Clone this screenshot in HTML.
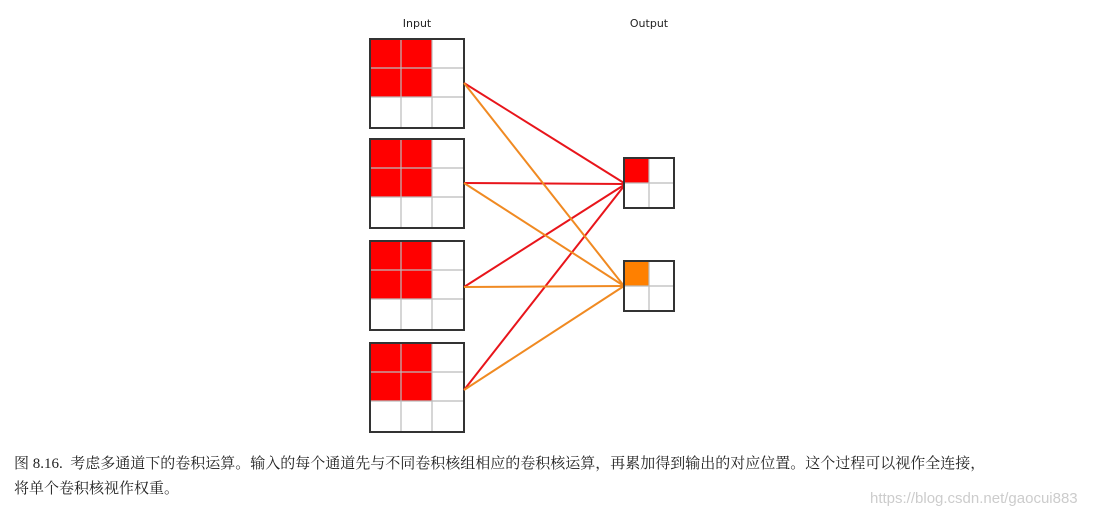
<!DOCTYPE html>
<html><head><meta charset="utf-8"><style>
body{margin:0;width:1098px;height:518px;background:#fff;position:relative;overflow:hidden;font-family:"Liberation Serif","Noto Serif CJK SC",serif}
.t{position:absolute;white-space:nowrap}
</style></head><body>
<svg width="1098" height="440" style="position:absolute;left:0;top:0">
<defs>
<g id="in">
<rect x="0" y="0" width="62" height="58" fill="#f00"/>
<g stroke="#bbb" stroke-width="1.2">
<line x1="31" y1="0" x2="31" y2="89"/><line x1="62" y1="0" x2="62" y2="89"/>
<line x1="0" y1="29" x2="94" y2="29"/><line x1="0" y1="58" x2="94" y2="58"/>
</g>
<rect x="0" y="0" width="94" height="89" fill="none" stroke="#333" stroke-width="2"/>
</g>
</defs>
<text x="417" y="27" font-family="DejaVu Sans,sans-serif" font-size="11" text-anchor="middle" fill="#222">Input</text>
<text x="649" y="27" font-family="DejaVu Sans,sans-serif" font-size="11" text-anchor="middle" fill="#222">Output</text>
<use href="#in" x="370" y="39"/>
<use href="#in" x="370" y="139"/>
<use href="#in" x="370" y="241"/>
<use href="#in" x="370" y="343"/>
<g stroke-width="2">
<line x1="464" y1="83" x2="624" y2="183" stroke="#e8151b"/>
<line x1="464" y1="183" x2="624" y2="184" stroke="#e8151b"/>
<line x1="464" y1="287" x2="624" y2="185" stroke="#e8151b"/>
<line x1="464" y1="390" x2="624" y2="186" stroke="#e8151b"/>
<line x1="464" y1="83" x2="624" y2="286" stroke="#f08a22"/>
<line x1="464" y1="183" x2="624" y2="286" stroke="#f08a22"/>
<line x1="464" y1="287" x2="624" y2="286" stroke="#f08a22"/>
<line x1="464" y1="390" x2="624" y2="286" stroke="#f08a22"/>
</g>
<rect x="624" y="158" width="25" height="25" fill="#f00"/>
<rect x="624" y="261" width="25" height="25" fill="#ff8000"/>
<g stroke="#bbb" stroke-width="1.2">
<line x1="649" y1="158" x2="649" y2="208"/><line x1="624" y1="183" x2="674" y2="183"/>
<line x1="649" y1="261" x2="649" y2="311"/><line x1="624" y1="286" x2="674" y2="286"/>
</g>
<rect x="624" y="158" width="50" height="50" fill="none" stroke="#333" stroke-width="2"/>
<rect x="624" y="261" width="50" height="50" fill="none" stroke="#333" stroke-width="2"/>
</svg>
<div class="t" style="left:14px;top:452px;font-size:15px;color:#222">图 8.16.&nbsp; 考虑多通道下的卷积运算。输入的每个通道先与不同卷积核组相应的卷积核运算，再累加得到输出的对应位置。这个过程可以视作全连接，</div>
<div class="t" style="left:14px;top:477px;font-size:15px;color:#222">将单个卷积核视作权重。</div>
<div class="t" style="left:870px;top:490px;font-size:15px;color:#ccc;font-family:'Liberation Sans',sans-serif">https://blog.csdn.net/gaocui883</div>
</body></html>
